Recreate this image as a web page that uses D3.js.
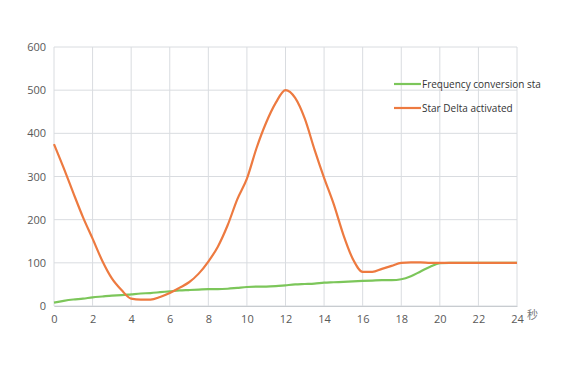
<!DOCTYPE html>
<html>
<head>
<meta charset="utf-8">
<script src="https://cdn.jsdelivr.net/npm/d3@7"></script>
<style>
  body { margin: 0; background: #fff; }
  #chart { width: 572px; height: 373px; overflow: hidden; }
  text { font-family: "Open Sans", "Noto Sans", sans-serif; }
</style>
</head>
<body>
<div id="chart"></div>
<script>
// time in seconds, every half second
const times = [0,0.5,1,1.5,2,2.5,3,3.5,4,4.5,5,5.5,6,6.5,7,7.5,8,8.5,9,9.5,10,10.5,11,11.5,12,
  12.5,13,13.5,14,14.5,15,15.5,16,16.5,17,17.5,18,18.5,19,19.5,20,20.5,21,21.5,22,22.5,23,23.5,24];
const freqConversion = [8,12,15,17,20,22,24,25,27,29,30,32,34,36,37,38,39,39,40,42,44,45,45,46,48,
  50,51,52,54,55,56,57,58,59,60,60,62,69,80,91,99,100,100,100,100,100,100,100,100];
const starDelta = [375,320,262,206,156,105,64,37,17,15,15,21,30,42,55,75,103,138,187,247,295,366,425,471,500,
  482,434,363,297,236,165,108,79,79,86,93,100,101,101,100,100,100,100,100,100,100,100,100,100];
const xTicks = [0,2,4,6,8,10,12,14,16,18,20,22,24];
const yTicks = [0,100,200,300,400,500,600];
const seriesNames = ["Frequency conversion start", "Star Delta activated"];
const colors = ["#7cc65a", "#ed7a40"];

const W = 572, H = 373;
const margin = {top: 47, right: 55, bottom: 67, left: 54};
const width = W - margin.left - margin.right;
const height = H - margin.top - margin.bottom;

const svg = d3.select("#chart").append("svg")
  .attr("width", W).attr("height", H);

// clip everything to the visible chart area (legend text gets cut at the right)
svg.append("clipPath").attr("id", "outer")
  .append("rect").attr("x", 0).attr("y", 0).attr("width", 541).attr("height", H);

const g = svg.append("g")
  .attr("clip-path", "url(#outer)")
  .append("g")
  .attr("transform", `translate(${margin.left},${margin.top})`);

const x = d3.scaleLinear().domain([0, 24]).range([0, width]);
const y = d3.scaleLinear().domain([0, 600]).range([height, 0]);

// grid
g.append("g").selectAll("line.h").data(yTicks).enter().append("line")
  .attr("x1", 0).attr("x2", width)
  .attr("y1", d => y(d)).attr("y2", d => y(d))
  .attr("stroke", "#d9dce0").attr("stroke-width", 1);
g.append("g").selectAll("line.v").data(xTicks).enter().append("line")
  .attr("x1", d => x(d)).attr("x2", d => x(d))
  .attr("y1", 0).attr("y2", height)
  .attr("stroke", "#d9dce0").attr("stroke-width", 1);

// axes (labels only)
const xAxis = g.append("g")
  .attr("transform", `translate(0,${height})`)
  .call(d3.axisBottom(x).tickValues(xTicks).tickSize(0).tickPadding(9));
xAxis.select(".domain").attr("stroke", "#c8ccd0");
xAxis.selectAll("text").attr("fill", "#595959").style("font-size", "11px");

const yAxis = g.append("g")
  .call(d3.axisLeft(y).tickValues(yTicks).tickSize(0).tickPadding(8));
yAxis.select(".domain").remove();
yAxis.selectAll("text").attr("fill", "#595959").style("font-size", "11px");

// unit label
g.append("text")
  .attr("x", width + 10).attr("y", height + 13)
  .attr("fill", "#777").style("font-size", "11px")
  .style("font-family", "'Noto Sans CJK SC', sans-serif")
  .text("秒");

// lines
const line = d3.line()
  .x((d, i) => x(times[i]))
  .y(d => y(d))
  .curve(d3.curveMonotoneX);

g.append("path").datum(freqConversion)
  .attr("fill", "none").attr("stroke", colors[0]).attr("stroke-width", 2.2)
  .attr("d", line);
g.append("path").datum(starDelta)
  .attr("fill", "none").attr("stroke", colors[1]).attr("stroke-width", 2.2)
  .attr("d", line);

// legend
const legend = g.append("g").attr("transform", `translate(${394 - margin.left},${84 - margin.top})`);
seriesNames.forEach((name, i) => {
  const row = legend.append("g").attr("transform", `translate(0,${i * 24})`);
  row.append("line").attr("x1", 0).attr("x2", 27).attr("y1", 0).attr("y2", 0)
    .attr("stroke", colors[i]).attr("stroke-width", 2.2);
  row.append("text").attr("x", 28).attr("y", 3.5)
    .attr("fill", "#333").style("font-size", "10px")
    .text(name);
});
</script>
</body>
</html>
